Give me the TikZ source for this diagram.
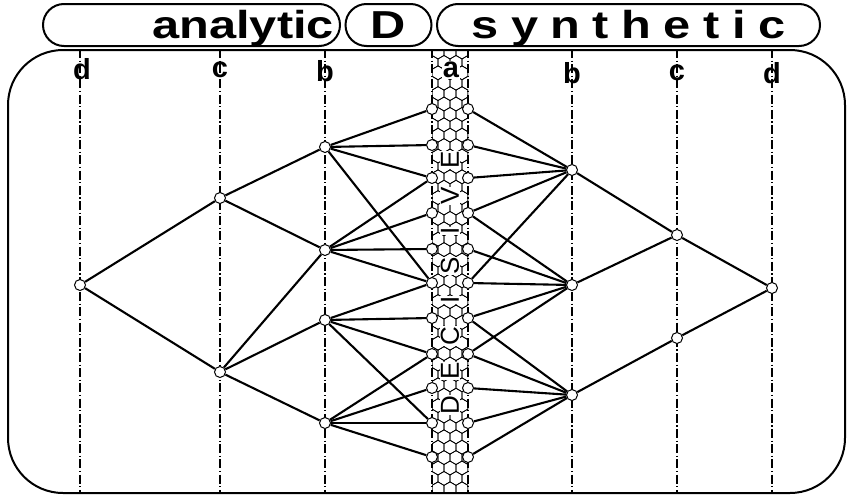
\documentclass[tikz,border=0pt]{standalone}
\usepackage{fontspec}
\setsansfont{Liberation Sans}
\usetikzlibrary{positioning}

\begin{document}
\begin{tikzpicture}[
  x=1pt, y=-1pt,
  font=\sffamily,
  titlebox/.style={draw, line width=2pt, rounded corners=21pt, minimum height=42pt, inner sep=4pt,
    text height=30pt, text depth=4pt,
    font=\sffamily\bfseries\fontsize{39}{39}\selectfont\addfontfeature{FakeStretch=1.25}},
  frame/.style={draw, line width=2pt, rounded corners=55pt},
  guide/.style={line width=1.1pt, dash pattern=on 9pt off 2.5pt on 1.2pt off 2.5pt},
  lvl/.style={font=\sffamily\bfseries\fontsize{29}{29}\selectfont, inner sep=1pt},
  dot/.style={circle, draw, fill=white, line width=1pt, inner sep=0pt, minimum size=11pt},
  edge/.style={line width=2.1pt},
  hex/.style={line width=0.7pt},
  letter/.style={fill=white, inner sep=0.8pt, rotate=90, font=\sffamily\fontsize{26}{26}\selectfont}]
\useasboundingbox (0,0) rectangle (849,498);
% ---- title row ----
\node[titlebox, minimum width=297pt, text width=285pt, align=right] (ana) at (191.5,25) {analytic};
\node[titlebox, minimum width=86pt, text width=74pt, align=center] (dec) at (388.5,25) {D};
\node[titlebox, minimum width=383pt, text width=371pt, align=center] (syn) at (628.5,25)
  {\addfontfeature{LetterSpace=32}synthetic};
% ---- frame and level labels ----
\node[frame, minimum width=837pt, minimum height=443pt] (frame) at (426.5,271.5) {};
\node[lvl] (ld) at (82,69) {d};
\node[lvl] (lc) at (220,70) {c};
\node[lvl] (lb) at (325,71) {b};
\node[lvl] (rb) at (572,73) {b};
\node[lvl] (rc) at (677,73) {c};
\node[lvl] (rd) at (772,73) {d};
\coordinate (acol) at (432,70);
\coordinate (bcol) at (468,70);
\foreach \n/\x in {ld/80, lc/220, lb/325, acol/432, bcol/468, rb/572, rc/677, rd/772}
  \draw[guide] (frame.north -| \x,0) -- (frame.south -| \x,0);
% ---- decisive band ----
\begin{scope}
  \clip (432,51) rectangle (468,492);
  \foreach \r in {0,...,42} {
    \pgfmathsetmacro{\yy}{52+\r*10.4}
    \pgfmathsetmacro{\xo}{mod(\r,2)*6}
    \foreach \c in {0,...,4}
      \draw[hex] ({426+\xo+\c*12},\yy) +(90:6.93) -- +(150:6.93) -- +(210:6.93)
        -- +(270:6.93) -- +(330:6.93) -- +(30:6.93) -- cycle;
  }
\end{scope}
\node[lvl, fill=white] (la) at (451,70) {a};
\foreach \l/\y [count=\i] in {E/160, V/196, I/231, S/266, I/300, C/336, E/371, D/405}
  \node[letter] (let\i) at (450,\y) {\l};
% ---- points ----
\node[dot] (pd) at (80,285) {};
\node[dot] (pc1) at (220,198) {};
\node[dot] (pc2) at (220,372) {};
\node[dot] (pb1) at (325,147) {};
\node[dot] (pb2) at (325,250) {};
\node[dot] (pb3) at (325,320) {};
\node[dot] (pb4) at (325,423) {};
\foreach \y [count=\i] in {109,145,178,213,249,283,318,354,388,423,457} {
  \node[dot] (la\i) at (432,\y) {};
  \node[dot] (ra\i) at (468,\y) {};
}
\node[dot] (qb1) at (572,170) {};
\node[dot] (qb2) at (572,285) {};
\node[dot] (qb3) at (572,395) {};
\node[dot] (qc1) at (677,235) {};
\node[dot] (qc2) at (677,338) {};
\node[dot] (qd) at (772,288) {};
% ---- analytic side ----
\foreach \s/\t in {pd/pc1, pd/pc2, pc1/pb1, pc1/pb2, pc2/pb2, pc2/pb3, pc2/pb4,
    pb1/la1, pb1/la2, pb1/la3, pb1/la6, pb2/la3, pb2/la4, pb2/la5, pb2/la6,
    pb3/la6, pb3/la7, pb3/la8, pb3/la10, pb4/la8, pb4/la9, pb4/la10, pb4/la11}
  \draw[edge] (\s) -- (\t);
% ---- synthetic side ----
\foreach \s/\t in {ra1/qb1, ra2/qb1, ra3/qb1, ra4/qb1, ra6/qb1,
    ra4/qb2, ra5/qb2, ra6/qb2, ra7/qb2, ra8/qb2,
    ra7/qb3, ra8/qb3, ra9/qb3, ra10/qb3, ra11/qb3,
    qb1/qc1, qb2/qc1, qb3/qc2, qc1/qd, qc2/qd}
  \draw[edge] (\s) -- (\t);
\end{tikzpicture}
\end{document}
